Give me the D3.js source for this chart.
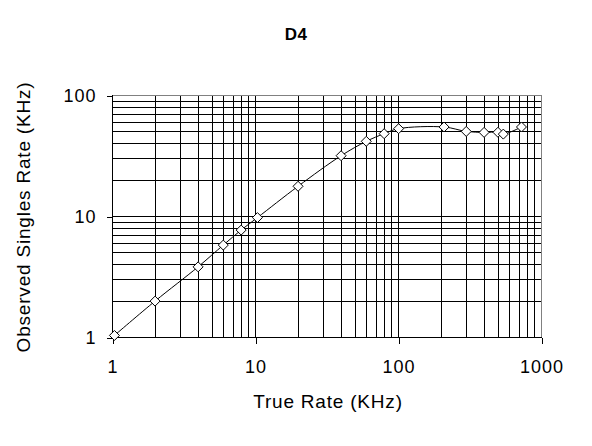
<!DOCTYPE html>
<html>
<head>
<meta charset="utf-8">
<script src="https://cdn.jsdelivr.net/npm/d3@7"></script>
<style>
  html, body { margin: 0; padding: 0; background: #fff; }
  svg { display: block; }
  text { font-family: Arial, "Liberation Sans", sans-serif; fill: #000; }
</style>
</head>
<body>
<div id="chart"></div>
<script>
// ---- data ----
const chartTitle = "D4";
const xTitle = "True Rate (KHz)";
const yTitle = "Observed Singles Rate (KHz)";
const trueRate = [1.04, 2, 4, 6, 8, 10.4, 20, 40, 60, 80, 101, 210, 300, 400, 500, 545, 730];
const observedRate = [1.03, 1.98, 3.8, 5.75, 7.65, 9.7, 17.6, 31.5, 41.4, 47.9, 52.7, 54.4, 50.0, 49.1, 49.2, 47.5, 54.4];
const xTickValues = [1, 10, 100, 1000];
const yTickValues = [1, 10, 100];
const xDomain = [1, 1000];
const yDomain = [1, 100];

// ---- layout ----
const W = 592, H = 446;
const pLeft = 112, pRight = 541, pTop = 95, pBottom = 337;

const svg = d3.select("#chart").append("svg").attr("width", W).attr("height", H);

const x = d3.scaleLog().domain(xDomain).range([pLeft, pRight]);
const y = d3.scaleLog().domain(yDomain).range([pBottom, pTop]);

// minor values (1..9 per decade)
const minorX = [];
for (let d = 1; d < 1000; d *= 10) for (let k = 1; k <= 9; k++) minorX.push(d * k);
const minorY = [];
for (let d = 1; d < 100; d *= 10) for (let k = 1; k <= 9; k++) minorY.push(d * k);

const grid = svg.append("g").attr("shape-rendering", "crispEdges");
grid.selectAll("line.vx").data(minorX.filter(v => v > 1)).enter().append("line")
  .attr("x1", d => Math.round(x(d)) + 0.5).attr("x2", d => Math.round(x(d)) + 0.5)
  .attr("y1", pTop).attr("y2", pBottom)
  .attr("stroke", "#000").attr("stroke-width", 1);
grid.selectAll("line.hy").data(minorY.filter(v => v > 1)).enter().append("line")
  .attr("y1", d => Math.round(y(d)) + 0.5).attr("y2", d => Math.round(y(d)) + 0.5)
  .attr("x1", pLeft).attr("x2", pRight)
  .attr("stroke", "#000").attr("stroke-width", 1);

// plot border top/right (gray)
grid.append("line").attr("x1", pLeft).attr("x2", pRight + 0.5).attr("y1", pTop + 0.5).attr("y2", pTop + 0.5)
  .attr("stroke", "#808080");
grid.append("line").attr("x1", pRight + 0.5).attr("x2", pRight + 0.5).attr("y1", pTop).attr("y2", pBottom)
  .attr("stroke", "#808080");

// axes
const xAxis = d3.axisBottom(x).tickValues(xTickValues).tickFormat(d3.format("d")).tickSize(6).tickPadding(17);
const yAxis = d3.axisLeft(y).tickValues(yTickValues).tickFormat(d3.format("d")).tickSize(6).tickPadding(10);

const gx = svg.append("g").attr("transform", `translate(0.5,${pBottom + 0.5})`).call(xAxis);
const gy = svg.append("g").attr("transform", `translate(${pLeft + 0.5},0.5)`).call(yAxis);
[gx, gy].forEach(g => {
  g.attr("shape-rendering", "crispEdges");
  g.select(".domain").remove();
  g.selectAll(".tick line").attr("stroke", "#000");
  g.selectAll(".tick text").attr("font-size", 18).attr("letter-spacing", "1px")
    .style("font-family", "Arial, 'Liberation Sans', sans-serif").attr("fill", "#000");
});
// axis lines
svg.append("line").attr("x1", pLeft + 0.5).attr("x2", pLeft + 0.5).attr("y1", pTop).attr("y2", pBottom + 1)
  .attr("stroke", "#000").attr("shape-rendering", "crispEdges");
svg.append("line").attr("x1", pLeft).attr("x2", pRight + 1).attr("y1", pBottom + 0.5).attr("y2", pBottom + 0.5)
  .attr("stroke", "#000").attr("shape-rendering", "crispEdges");

// data line
const pts = trueRate.map((v, i) => [v, observedRate[i]]);
const line = d3.line().x(d => x(d[0])).y(d => y(d[1])).curve(d3.curveCatmullRom.alpha(0.5));
svg.append("path").datum(pts).attr("d", line)
  .attr("fill", "none").attr("stroke", "#000").attr("stroke-width", 1);

// markers (diamonds)
svg.selectAll("path.pt").data(pts).enter().append("path")
  .attr("class", "pt")
  .attr("transform", d => `translate(${x(d[0])},${y(d[1])})`)
  .attr("d", "M0,-5L5,0L0,5L-5,0Z")
  .attr("fill", "#fff").attr("stroke", "#000").attr("stroke-width", 1);

// titles
svg.append("text").attr("x", 296).attr("y", 40).attr("text-anchor", "middle")
  .attr("font-size", 17).attr("font-weight", "bold").attr("letter-spacing", "0.5px").text(chartTitle);
svg.append("text").attr("x", 328).attr("y", 408).attr("text-anchor", "middle")
  .attr("font-size", 19).attr("letter-spacing", "0.8px").text(xTitle);
svg.append("text").attr("transform", "translate(30,217) rotate(-90)").attr("text-anchor", "middle")
  .attr("font-size", 19).attr("letter-spacing", "0.8px").text(yTitle);
</script>
</body>
</html>
